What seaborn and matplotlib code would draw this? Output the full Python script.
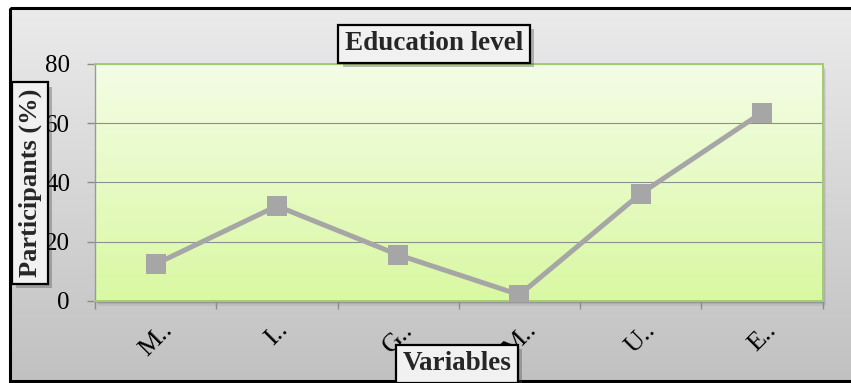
import numpy as np
import matplotlib
matplotlib.use("Agg")
import matplotlib.pyplot as plt
import matplotlib.patheffects as pe
from matplotlib.patches import Rectangle
from matplotlib.colors import LinearSegmentedColormap
import pandas as pd
import seaborn as sns

# Data
categories = ["M..", "I..", "G..", "M..", "U..", "E.."]
participants = [12.4, 32.0, 15.5, 2.0, 36.2, 63.6]
y_ticks = [0, 20, 40, 60, 80]

sns.set_theme(style="white")
SERIF = ["Liberation Serif", "DejaVu Serif"]
plt.rcParams["font.family"] = SERIF

W, H = 851, 383
fig = plt.figure(figsize=(W / 100, H / 100), dpi=100)
fig.patch.set_facecolor("white")

# Background layer in pixel coordinates (origin top-left)
bg = fig.add_axes([0, 0, 1, 1], zorder=-10)
bg.set_xlim(0, W)
bg.set_ylim(H, 0)
bg.axis("off")
grad = np.linspace(0, 1, 256).reshape(-1, 1)
frame_cmap = LinearSegmentedColormap.from_list("frame", ["#ebebeb", "#c1c1c1"])
bg.imshow(grad, extent=(10, W + 5, 381, 8), cmap=frame_cmap, aspect="auto",
          interpolation="bilinear")
bg.add_patch(Rectangle((10, 8), W, 373, fill=False, ec="black", lw=2.2))

# Plot-area geometry (pixels)
px0, py0, pw, ph = 95, 64, 727.7, 236.7
for off, a in [(5, 0.06), (3.5, 0.08), (2, 0.12)]:
    bg.add_patch(Rectangle((px0 + off * 0.6, py0 + off), pw, ph, fc="black",
                           ec="none", alpha=a))

ax = fig.add_axes([px0 / W, (H - py0 - ph) / H, pw / W, ph / H])
ax.patch.set_alpha(0)
area_cmap = LinearSegmentedColormap.from_list("area", ["#f4fde6", "#d9f8a2"])
ax.imshow(grad, extent=(-0.5, 5.5, 0, 80), cmap=area_cmap, aspect="auto",
          origin="upper", zorder=-1, interpolation="bilinear")

df = pd.DataFrame({"pos": np.arange(len(categories)), "participants": participants})
sns.lineplot(data=df, x="pos", y="participants", ax=ax, color="#a6a6a6", lw=3.6,
             marker="s", markersize=15, markeredgewidth=0,
             markerfacecolor="#a6a6a6", zorder=5)

ax.set_xlim(-0.5, 5.5)
ax.set_ylim(0, 80)
ax.set_yticks(y_ticks)
ax.set_yticklabels([str(v) for v in y_ticks])
ax.yaxis.grid(True, color="#8e8e8e", lw=0.8)
ax.xaxis.grid(False)
ax.set_axisbelow(True)

ax.set_xticks(np.arange(-0.5, 6, 1))
ax.set_xticklabels([])
ax.set_xticks(np.arange(len(categories)), minor=True)
ax.set_xticklabels(categories, minor=True)
ax.tick_params(axis="x", which="major", bottom=True, length=6, width=1,
               color="#8c8c8c", direction="out")
ax.tick_params(axis="x", which="minor", bottom=True, length=0, pad=13,
               labelsize=19, labelcolor="black")
ax.tick_params(axis="y", left=True, length=6, width=1, color="#8c8c8c",
               direction="out", pad=12, labelsize=18, labelcolor="black")
for lbl in ax.get_yticklabels():
    lbl.set_fontfamily(SERIF)
for lbl in ax.get_xticklabels(minor=True):
    lbl.set_fontfamily(SERIF)
    lbl.set_rotation(45)
    lbl.set_ha("center")
    lbl.set_va("top")
ax.set_xlabel("")
ax.set_ylabel("")

for side in ["top", "right", "bottom"]:
    ax.spines[side].set_color("#a3cd6e")
    ax.spines[side].set_linewidth(1.4)
ax.spines["left"].set_color("#9a9a9a")
ax.spines["left"].set_linewidth(1.0)

# Boxed labels
box = dict(boxstyle="square,pad=0.24", fc="#f1f1f1", ec="black", lw=1.6)
shadow = [pe.withSimplePatchShadow(offset=(3, -3), alpha=0.35)]

t = fig.text(434 / W, 1 - 44 / H, "Education level", ha="center", va="center",
             fontsize=19.5, fontweight="bold", family=SERIF, bbox=dict(box))
t.get_bbox_patch().set_path_effects(shadow)

yl = fig.text(30 / W, 1 - 183 / H, "Participants (%)", ha="center", va="center",
              rotation=90, fontsize=19, fontweight="bold", family=SERIF,
              bbox=dict(box))
yl.get_bbox_patch().set_path_effects(shadow)

xl = fig.text(457 / W, 1 - 364 / H, "Variables", ha="center", va="center",
              fontsize=19.5, fontweight="bold", family=SERIF, bbox=dict(box))
xl.get_bbox_patch().set_path_effects(shadow)

fig.savefig("out.png", dpi=100)
